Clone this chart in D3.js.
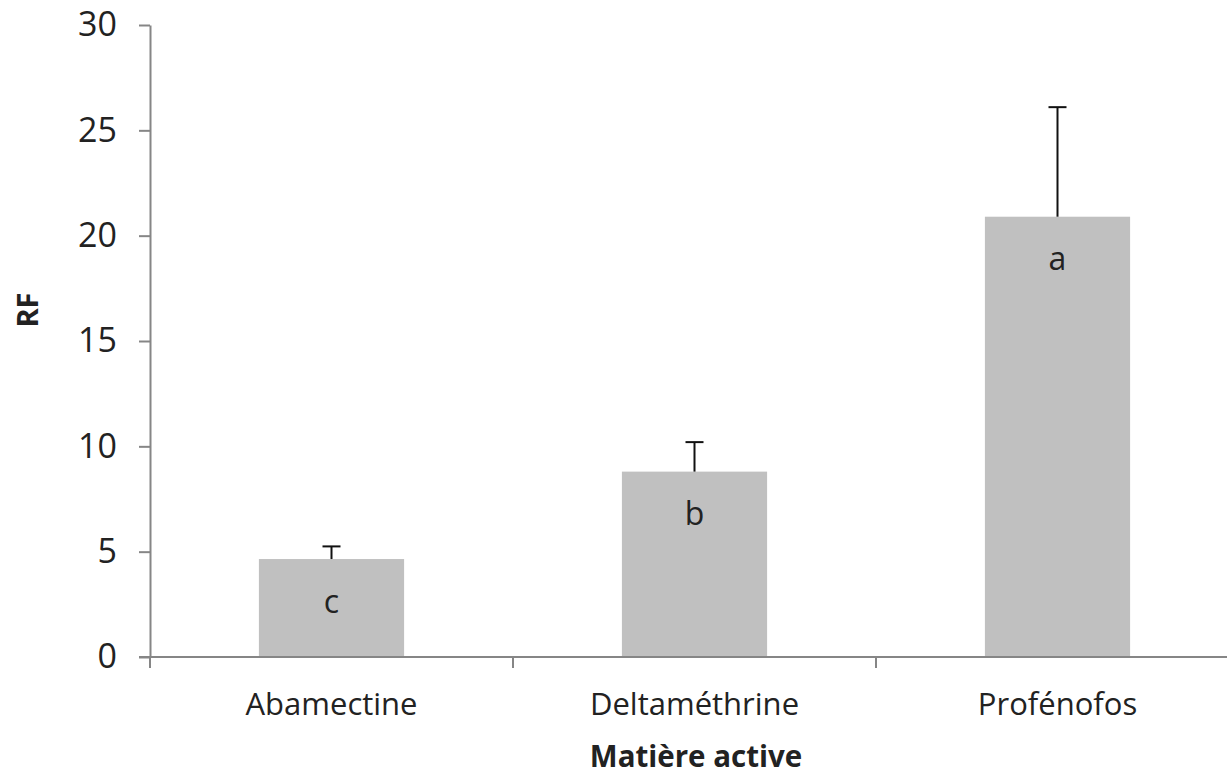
<!DOCTYPE html>
<html>
<head>
<meta charset="utf-8">
<script src="https://cdn.jsdelivr.net/npm/d3@7"></script>
<style>
  body { margin: 0; background: #fff; }
  text { font-family: "Open Sans", sans-serif; fill: #222; }
</style>
</head>
<body>
<div id="chart"></div>
<script>
// RF par matière active

var categories = ["Abamectine", "Deltaméthrine", "Profénofos"];
var values = [4.65, 8.8, 20.9];
var errors = [0.6, 1.4, 5.2];
var letters = ["c", "b", "a"];
var yTicks = [0, 5, 10, 15, 20, 25, 30];

var w = 1227, h = 775;

var svg = d3.select("#chart").append("svg")
  .attr("width", w)
  .attr("height", h);

var x = d3.scaleBand()
  .domain(categories)
  .range([150, 1239])
  .paddingInner(0.6)
  .paddingOuter(0.3);

var y = d3.scaleLinear()
  .domain([0, 30])
  .range([657, 25]);

var data = categories.map(function(c, i) {
  return { name: c, v: values[i], e: errors[i], l: letters[i] };
});

// bars
svg.selectAll(".bar")
  .data(data)
.enter().append("rect")
  .attr("class", "bar")
  .attr("x", function(d) { return x(d.name); })
  .attr("y", function(d) { return y(d.v); })
  .attr("width", x.bandwidth())
  .attr("height", function(d) { return y(0) - y(d.v); })
  .style("fill", "#c0c0c0");

// error bars (up only)
var eb = svg.selectAll(".err")
  .data(data)
.enter().append("g")
  .attr("class", "err")
  .attr("transform", function(d) { return "translate(" + (x(d.name) + x.bandwidth() / 2) + ",0)"; });

eb.append("line")
  .attr("y1", function(d) { return y(d.v); })
  .attr("y2", function(d) { return y(d.v + d.e); })
  .style("stroke", "#111")
  .style("stroke-width", 2);

eb.append("line")
  .attr("x1", -9)
  .attr("x2", 9)
  .attr("y1", function(d) { return y(d.v + d.e); })
  .attr("y2", function(d) { return y(d.v + d.e); })
  .style("stroke", "#111")
  .style("stroke-width", 2);

// significance letters
svg.selectAll(".letter")
  .data(data)
.enter().append("text")
  .attr("class", "letter")
  .attr("x", function(d) { return x(d.name) + x.bandwidth() / 2; })
  .attr("y", function(d) { return y(d.v) + 44; })
  .attr("dy", ".3em")
  .attr("text-anchor", "middle")
  .style("font-size", "32px")
  .text(function(d) { return d.l; });

// y axis
var yAxis = svg.append("g")
  .attr("transform", "translate(150,0)")
  .call(d3.axisLeft(y).tickValues(yTicks).tickSize(11).tickSizeOuter(0).tickPadding(22));

// x axis
var xAxis = svg.append("g")
  .attr("transform", "translate(0," + y(0) + ")")
  .call(d3.axisBottom(x).tickSize(0).tickPadding(36));

xAxis.select(".domain").remove();
xAxis.append("line")
  .attr("x1", 139)
  .attr("x2", w)
  .style("stroke", "#868686")
  .style("stroke-width", 2);

// ticks between categories
var bounds = [150, x(categories[1]) - x.step() * 0.3, x(categories[2]) - x.step() * 0.3, 1239];
xAxis.selectAll(".sep")
  .data(bounds)
.enter().append("line")
  .attr("class", "sep")
  .attr("x1", function(d) { return d; })
  .attr("x2", function(d) { return d; })
  .attr("y1", 0)
  .attr("y2", 11)
  .style("stroke", "#868686")
  .style("stroke-width", 2);

svg.selectAll(".domain, .tick line")
  .style("stroke", "#868686")
  .style("stroke-width", 2);

yAxis.selectAll("text").style("font-size", "34px").style("fill", "#222");
xAxis.selectAll("text").style("font-size", "31px").style("fill", "#222");

// axis titles
svg.append("text")
  .attr("x", 696)
  .attr("y", 767)
  .attr("text-anchor", "middle")
  .style("font-size", "29.5px")
  .style("font-weight", "bold")
  .text("Matière active");

svg.append("text")
  .attr("transform", "translate(28,310) rotate(-90)")
  .attr("dy", ".35em")
  .attr("text-anchor", "middle")
  .style("font-size", "29px")
  .style("font-weight", "bold")
  .text("RF");
</script>
</body>
</html>
